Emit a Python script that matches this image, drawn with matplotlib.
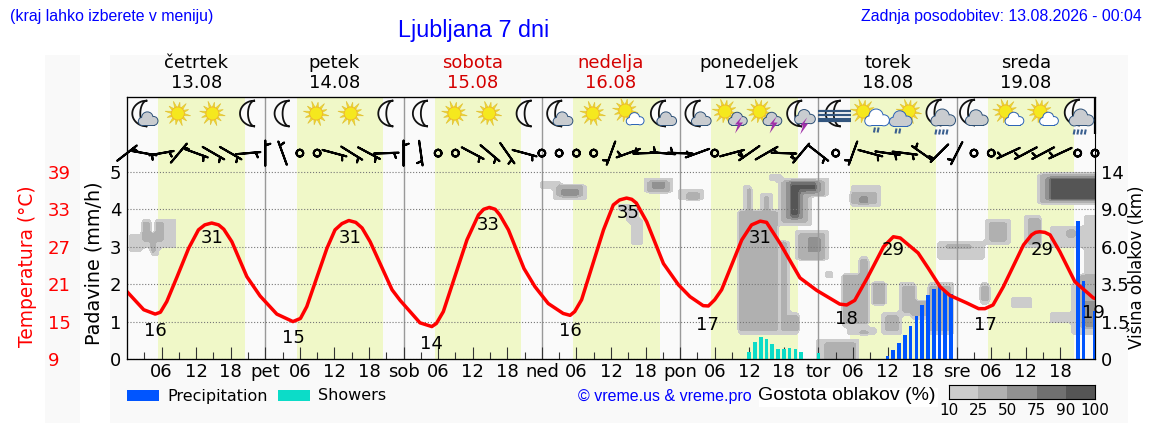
import numpy as np
import matplotlib
matplotlib.use("Agg")
import matplotlib.pyplot as plt
from matplotlib.colors import ListedColormap
from matplotlib.patches import Circle, Polygon, Rectangle

# --- data ---
day_names = ["četrtek", "petek", "sobota", "nedelja", "ponedeljek", "torek", "sreda"]
day_dates = ["13.08", "14.08", "15.08", "16.08", "17.08", "18.08", "19.08"]
day_colors = ["black", "black", "#d40000", "#d40000", "black", "black", "black"]
day_short = ["pet", "sob", "ned", "pon", "tor", "sre"]

sunrise = [5.4, 29.5, 53.45, 77.45, 101.35, 125.47, 149.4]
sunset = [20.5, 44.4, 68.4, 92.5, 116.4, 140.4, 164.3]

temp_hours = [0, 2.9, 4.9, 5.8, 6.9, 8.7, 10.7, 12.4, 13.5, 14.7, 15.9, 16.8, 18.2, 20.8, 23.1, 26, 28.8, 30.1, 31.2,
              34.7, 36.1, 37.3, 38.5, 39.7, 40.8, 42.2, 46, 47.4, 50.85, 52.9, 53.7, 54.9, 59, 61, 61.9, 62.9, 63.9,
              64.7, 66.2, 68.9, 70.8, 73.1, 75.7, 76.9, 77.7, 78.9, 82.7, 84.4, 85.5, 86.7, 87.6, 88.4, 90.2, 93.1,
              95.7, 97.7, 100, 100.9, 102, 103.2, 106.7, 108.4, 109.9, 111, 113.3, 116.8, 119.7, 123.7, 124.9, 126.3,
              128.6, 131.3, 133, 134.2, 137.3, 139.1, 141.1, 142.8, 145.7, 147.8, 148.9, 150.3, 152.1,
              155.6, 157, 157.7, 158.4, 159.3, 160.2, 161.9, 164.5, 167.7, 168]
temp_values = [19.8, 16.9, 16.2, 16.5, 18.2, 22.2, 26.75, 29.7, 30.5, 30.8, 30.5, 29.8, 27.8, 22.2, 19.1, 16.2, 15, 15.5, 17.4,
               26.75, 29.7, 30.7, 31.2, 30.9, 30, 27.8, 20.1, 18.4, 14.8, 14.2, 14.7, 16.6, 28.1, 32.1, 33, 33.3, 33,
               32.1, 29.7, 23.5, 20.6, 17.9, 16.3, 16, 16.6, 18.5, 29.7, 33.7, 34.5, 34.8, 34.6, 34, 31, 24.3,
               20.9, 19, 17.55, 17.5, 18.5, 20.1, 28.1, 30.5, 31.1, 30.9, 27.6, 22, 20, 17.8, 17.66, 18.4,
               22.2, 27, 28.6, 28.4, 26, 23.5, 20.6, 19.2, 18, 17.07, 17.07, 17.66, 20.6,
               27.3, 28.9, 29.3, 29.4, 29.3, 28.9, 26.2, 21.4, 18.8, 18.7]
label_hours = [4.9, 14.75, 28.8, 38.7, 52.9, 62.7, 76.9, 87, 100.8, 109.9, 124.8, 133, 148.9, 158.8, 167.8]
label_temps = [16, 31, 15, 31, 14, 33, 16, 35, 17, 31, 18, 29, 17, 29, 19]

shower_hours = [108, 109, 110, 111, 112, 113, 114, 115, 116, 117, 120]
shower_mm = [.18, .45, .6, .54, .4, .28, .28, .3, .28, .2, .15]
precip_hours = [132, 133, 134, 135, 136, 137, 138, 139, 140, 141, 142, 143, 165, 166, 168]
precip_mm = [.09, .25, .44, .65, .89, 1.16, 1.43, 1.72, 1.88, 1.92, 1.83, 1.74, 3.7, 2.09, 1.29]

# wind direction (degrees, where it blows from) every 3 hours, None = calm
wind_dir = [52, 100, 80, 40, 110, 120, 120, 85,
            0, 340, None, None, 105, 122, 118, 88,
            0, 172, None, None, 118, 130, 145, 105,
            None, None, None, None, 200, 250, 268, 275,
            272, 250, None, 75, 235, 60, 92, 220,
            128, None, 200, 105, 98, 97, 305, 225,
            207, None, None, 245, 242, 242, 245, None, None]

# one icon every 6 hours
icon_hours = [3 + 6 * i for i in range(28)]
icons = ["moon_cloud", "sun", "sun", "moon",
         "moon", "sun", "sun", "moon",
         "moon", "sun", "sun", "moon",
         "moon_cloud", "sun", "sun_cloud", "moon_cloud",
         "moon_cloud", "sun_storm", "sun_storm", "moon_storm",
         "moon_fog", "sun_shower", "sun_darkshower", "moon_rain",
         "moon_dark", "sun_small", "sun_small", "moon_rain"]

# cloud boxes per density: (hour from, hour to, low, high) on the left axis scale
cloud_15 = [(.3, 2.3, 2.82, 3.4), (2.3, 4.3, 2.96, 3.73), (4, 5.8, 2.78, 3.36), (5.2, 8.6, 2.91, 3.8),
            (71.7, 75.7, 4.56, 4.74), (74, 79.5, 4.27, 4.65), (89.3, 94.5, 4.45, 4.86), (95.4, 100.3, 4.23, 4.5),
            (85.5, 87.3, 3.94, 4.16), (87, 88.7, 3.63, 4.07), (87.6, 89.3, 3.05, 3.72),
            (105.9, 112.7, .64, 3.98), (107.1, 108.7, 3.98, 4.65), (110.1, 111.9, 3.98, 4.43),
            (112.7, 116.8, .69, 1.22), (113.2, 114.8, .69, 3.18), (112.4, 113.3, 1.9, 3),
            (111.1, 113.6, 4.74, 4.96), (113, 118.8, 3.58, 4.87), (118.8, 121.7, 4.34, 4.87),
            (116.2, 121.5, 2.63, 3.42), (121.4, 122.5, 2.16, 2.33), (124.1, 128.8, .86, 2.29),
            (127.1, 128.8, 2.25, 2.75), (125.2, 130, .62, .86), (120, 127.2, 0, .51), (129.2, 131.7, 1.42, 2.07),
            (125.4, 130.6, 4.09, 4.65), (134.1, 136.8, 1.13, 2.04), (131, 134.7, .68, 1.27), (139.1, 143.7, .68, 2.02),
            (136.2, 139.1, 1.1, 1.55), (141, 148.9, 2.65, 3.18), (149.1, 153.5, 3.05, 3.73), (156, 158.7, 2.96, 3.85),
            (148, 149.8, 1.44, 2.04), (153.1, 156.9, 1.35, 1.68), (158.2, 168, 4.12, 4.97), (160.2, 168, 3, 3.5),
            (166, 168, 1.94, 3.9), (159.9, 168, 1, 1.22), (164, 168, .68, 2.02)]
cloud_35 = [(2.5, 3.8, 3.2, 3.67), (4, 4.9, 2.87, 3.31), (4.9, 6.4, 3.14, 3.67),
            (74.9, 78.9, 4.34, 4.61), (90.2, 94, 4.5, 4.79), (96.8, 99.1, 4.3, 4.43),
            (106.4, 112.5, .73, 3.91), (107.4, 108.4, 3.91, 4.59), (110.4, 111.6, 3.91, 4.36),
            (113.3, 116.5, .78, 1.18), (113.5, 114.5, .78, 3.11),
            (113.6, 118.2, 3.67, 4.8), (118.2, 121.1, 4.38, 4.8), (116.9, 121, 2.69, 3.34),
            (124.3, 128.4, .91, 2.22), (127.5, 128.4, 2.22, 2.69), (126.9, 128.6, .69, .77), (121.1, 126.3, 0, .44),
            (129.5, 131.4, 1.49, 2.02), (125.9, 130, 4.12, 4.45), (134.6, 136.5, 1.22, 1.98), (131.3, 134.1, .77, 1.2),
            (139.4, 143.1, .78, 1.98), (136.2, 139.1, 1.13, 1.5), (142.2, 146.9, 2.91, 3.05),
            (149.5, 152.7, 3.14, 3.67), (156.7, 158.4, 3.09, 3.8), (148.3, 149.4, 1.53, 1.98),
            (158.9, 168, 4.2, 4.92), (162.8, 164.5, 3.23, 3.45), (165.7, 168, .86, 2.25)]
cloud_60 = [(75.7, 78, 4.39, 4.52), (90.8, 93.1, 4.54, 4.72), (114.2, 117.7, 3.76, 4.79), (117.7, 120.5, 4.45, 4.79),
            (118, 120, 2.84, 3.24), (126.9, 128.9, 4.16, 4.36), (159.4, 168, 4.24, 4.88), (166.2, 168, .9, 1.5)]
cloud_80 = [(114.8, 116.8, 3.8, 4.71), (116.8, 119.8, 4.47, 4.71), (159.9, 168, 4.27, 4.85)]
cloud_95 = [(115.3, 116.5, 3.88, 4.65), (116.5, 119.4, 4.54, 4.67), (160.5, 168, 4.3, 4.83)]

density_levels = [10, 25, 50, 75, 90, 100]
density_colors = ["#cccccc", "#b0b0b0", "#919191", "#707070", "#555555"]
right_labels = ["0", "1.5", "3.5", "6.0", "9.0", "14"]

W, H = 1152, 443
HOUR_PX = 968 / 168

plt.rcParams["font.family"] = "DejaVu Sans"
fig = plt.figure(figsize=(W / 100, H / 100), dpi=100, facecolor="white")


def px_axes(left, top, right, bottom, **kw):
    return fig.add_axes([left / W, 1 - bottom / H, (right - left) / W, (bottom - top) / H], **kw)


def px_text(x, y, s, **kw):
    kw.setdefault("ha", "center")
    kw.setdefault("va", "center")
    return fig.text(x / W, 1 - y / H, s, zorder=10, **kw)


# background panels
bg = px_axes(0, 0, W, H, zorder=0)
bg.set_xlim(0, W)
bg.set_ylim(H, 0)
bg.axis("off")
bg.add_patch(Rectangle((45, 55), 35, 368, fc="#f9f9f9", ec="none"))
bg.add_patch(Rectangle((110, 55), 1018, 368, fc="#f9f9f9", ec="none"))

# main axes
ax = px_axes(127, 97, 1095, 359, zorder=1, facecolor="#fafafa")
ax.set_xlim(0, 168)
ax.set_ylim(0, 7)
for rise, set_ in zip(sunrise, sunset):
    ax.axvspan(rise, set_, color="#f0f8c8", lw=0, zorder=0)

# clouds
grid_h = np.arange(0, 168.01, 0.75)
grid_y = np.arange(0, 5.21, 0.1)
density = np.zeros((len(grid_y), len(grid_h)))
for pct, boxes in [(15, cloud_15), (35, cloud_35), (60, cloud_60), (80, cloud_80), (95, cloud_95)]:
    for h0, h1, y0, y1 in boxes:
        inside = np.outer((grid_y >= y0) & (grid_y <= y1), (grid_h >= h0) & (grid_h <= h1))
        density[inside] = pct
ax.contourf(grid_h, grid_y, density, levels=density_levels, colors=density_colors, zorder=1)

for h in range(24, 168, 24):
    ax.axvline(h, color="#999999", lw=1, zorder=2)
ax.set_yticks(range(6))
ax.yaxis.grid(True, color="#777777", ls=":", lw=0.8)
ax.set_axisbelow(False)
ax.bar(shower_hours, shower_mm, width=0.65, color="#0cdcc8", zorder=3)
ax.bar(precip_hours, precip_mm, width=0.65, color="#0055ff", zorder=3)

# ticks along the bottom
major = [h for h in range(6, 168, 6)]
major_labels = []
for h in major:
    major_labels.append(day_short[h // 24 - 1] if h % 24 == 0 else "%02d" % (h % 24))
ax.set_xticks(major)
ax.set_xticklabels(major_labels)
ax.set_xticks(range(3, 168, 6), minor=True)
ax.tick_params(axis="x", which="major", direction="in", length=9, labelsize=13, width=0.8, color="#333333", pad=3)
ax.tick_params(axis="x", which="minor", direction="in", length=5, width=0.8, color="#333333")
ax.tick_params(axis="y", length=0, labelsize=13, pad=4)

# wind barbs, staff pointing to where the wind comes from
wind_hours = np.arange(0, 169, 3)
speed = np.array([0 if d is None else 6 for d in wind_dir], dtype=float)
rad = np.radians([0 if d is None else d for d in wind_dir])
u = -speed * np.sin(rad)
v = -speed * np.cos(rad)
ax.barbs(wind_hours, np.full(len(wind_hours), 5.5), u, v, pivot="middle", length=6, linewidth=1.5,
         color="black", sizes=dict(emptybarb=0.135), clip_on=False, zorder=6)

# temperature
ax_t = ax.twinx()
ax_t.set_ylim(9, 51)
ax_t.plot(temp_hours, temp_values, color="#ff0000", lw=2.5, zorder=5)
for h, t in zip(label_hours, label_temps):
    ax_t.annotate(str(t), (h, t), xytext=(0, -11.5), textcoords="offset points", ha="center", va="center",
                  fontsize=13, zorder=6, annotation_clip=False)
ax_t.set_yticks([9, 15, 21, 27, 33, 39])
ax_t.spines["right"].set_position(("axes", -82 / 968))
ax_t.spines["right"].set_visible(False)
ax_t.tick_params(axis="y", length=0, pad=2, labelsize=13, labelcolor="#ff0000")
ax_t.patch.set_visible(False)

# cloud height scale on the right
ax_r = ax.twinx()
ax_r.set_ylim(0, 7)
ax_r.set_yticks(range(6))
ax_r.set_yticklabels(right_labels)
ax_r.tick_params(axis="y", length=0, labelsize=13, pad=4)
ax_r.patch.set_visible(False)
ax_r.spines["right"].set_bounds(0, 5)
ax_r.plot([168, 168], [6, 7], color="black", lw=1.6, clip_on=False, solid_capstyle="butt")

# day headers
for i in range(7):
    x = 127 + (12 + 24 * i) * HOUR_PX
    px_text(x, 63, day_names[i], color=day_colors[i], fontsize=13)
    px_text(x, 83, day_dates[i], color=day_colors[i], fontsize=13)

# weather icons, in pixels on an overlay
ov = px_axes(0, 0, W, H, zorder=5)
ov.set_xlim(0, W)
ov.set_ylim(H, 0)
ov.axis("off")


def draw_sun(cx, cy, r=6.5):
    for i in range(12):
        a = np.radians(30 * i + 10)
        length = r + (6.5 if i % 2 == 0 else 5)
        side = np.array([-np.sin(a), np.cos(a)]) * 1.1
        tip = np.array([cx + np.cos(a) * length, cy + np.sin(a) * length])
        base = np.array([cx + np.cos(a) * r, cy + np.sin(a) * r])
        ov.add_patch(Polygon([base + side, tip, base - side], fc="#f2e21f", ec="#e2c23a", lw=0.5))
    ov.add_patch(Circle((cx, cy), r, fc="#f5e81e", ec="#eeb52c", lw=0.6))


def draw_moon(cx, cy):
    t = np.linspace(-1, 1, 40)
    back = np.sqrt(1 - t ** 2)
    outer = np.column_stack([cx + 7 - 15 * back, cy + 13 * t])
    inner = np.column_stack([cx + 7 - 7 * back, cy + 13 * t])[::-1]
    ov.add_patch(Polygon(np.vstack([outer, inner]), fc="#fbfbfb", ec="#111111", lw=1.3))


def draw_cloud(cx, cy, s, face, edge):
    bumps = [(-.62, .2, .38), (-.1, -.2, .55), (.55, .15, .42)]
    for dx, dy, r in bumps:
        ov.add_patch(Circle((cx + dx * s, cy + dy * s), r * s, fc=edge, ec=edge, lw=1.4))
    ov.add_patch(Rectangle((cx - .62 * s, cy), 1.17 * s, .58 * s, fc=edge, ec=edge, lw=1.4))
    for dx, dy, r in bumps:
        ov.add_patch(Circle((cx + dx * s, cy + dy * s), r * s, fc=face, ec="none"))
    ov.add_patch(Rectangle((cx - .62 * s, cy), 1.17 * s, .58 * s, fc=face, ec="none"))


def draw_bolt(cx, cy):
    pts = [(4, -8), (-3, 0), (0, 0), (-3, 9), (5, -2), (1, -2), (4, -8)]
    ov.add_patch(Polygon([(cx + a, cy + b) for a, b in pts], fc="#a030a8", ec="none"))


def draw_rain(cx, cy, n):
    for i in range(n):
        x = cx + 3.7 * (i - (n - 1) / 2)
        ov.plot([x + .5, x - .5], [cy, cy + 5], color="#3a5f8f", lw=1.5, solid_capstyle="butt")


GREY, NAVY, PALE, BLUE = "#c9ccd0", "#2d5178", "#ffffff", "#2a62b8"
for hour, name in zip(icon_hours, icons):
    cx = 127 + hour * HOUR_PX
    cy = 113.5
    if name == "sun":
        draw_sun(cx - 1, cy)
    elif name == "moon":
        draw_moon(cx, cy)
    elif name == "moon_cloud":
        draw_moon(cx - 4, cy)
        draw_cloud(cx + 4, cy + 6, 9.5, GREY, NAVY)
    elif name == "sun_cloud":
        draw_sun(cx - 3, cy - 3)
        draw_cloud(cx + 7, cy + 6, 8.5, PALE, BLUE)
    elif name == "sun_storm":
        draw_sun(cx - 7, cy - 2)
        draw_cloud(cx + 6, cy + 6, 9, GREY, NAVY)
        draw_bolt(cx + 6, cy + 11)
    elif name == "moon_storm":
        draw_moon(cx - 6, cy)
        draw_cloud(cx + 4, cy + 4, 10, GREY, NAVY)
        draw_bolt(cx + 2, cy + 12)
    elif name == "moon_fog":
        draw_moon(cx - 2, cy)
        for dy, w in [(-3, 1.6), (1, 1.6), (6, 3)]:
            ov.plot([cx - 18, cx + 15], [cy + dy, cy + dy], color="#33567f", lw=w, solid_capstyle="butt")
    elif name == "sun_shower":
        draw_sun(cx - 7, cy - 2)
        draw_cloud(cx + 7, cy + 5, 12, PALE, BLUE)
        draw_rain(cx + 6, cy + 14, 2)
    elif name == "sun_darkshower":
        draw_sun(cx + 4, cy - 2)
        draw_cloud(cx - 4, cy + 6, 11, GREY, BLUE)
        draw_rain(cx - 7, cy + 15, 2)
    elif name == "moon_rain":
        draw_moon(cx - 5, cy - 1)
        draw_cloud(cx + 4, cy + 5, 12, GREY, NAVY)
        draw_rain(cx + 2, cy + 16, 4)
    elif name == "moon_dark":
        draw_moon(cx - 6, cy - 1)
        draw_cloud(cx + 3, cy + 5, 11, GREY, NAVY)
    elif name == "sun_small":
        draw_sun(cx - 3, cy - 2)
        draw_cloud(cx + 6, cy + 6, 9, PALE, BLUE)

# legend row
ov.add_patch(Rectangle((127, 390), 32, 11, fc="#0055ff", ec="none"))
ov.add_patch(Rectangle((278, 390), 32, 11, fc="#0cdcc8", ec="none"))
px_text(167, 396, "Precipitation", ha="left", fontsize=11.5)
px_text(318, 396, "Showers", ha="left", fontsize=11.5)
px_text(665, 397, "© vreme.us & vreme.pro", color="#0000ff", fontsize=11.5, family="Liberation Sans")
ov.add_patch(Rectangle((759, 388), 179, 19, fc="white", ec="none"))
px_text(847, 396, "Gostota oblakov (%)", fontsize=14, family="Liberation Sans")

# colour key
ax_c = px_axes(949, 385, 1095, 399, zorder=6)
ax_c.pcolormesh([0, 1, 2, 3, 4, 5], [0, 1], [[0, 1, 2, 3, 4]], cmap=ListedColormap(density_colors))
ax_c.set_yticks([])
ax_c.set_xticks(range(6))
ax_c.set_xticklabels([str(d) for d in density_levels])
ax_c.tick_params(axis="x", length=0, labelsize=11, pad=3)

# titles and side labels
px_text(10, 17, "(kraj lahko izberete v meniju)", ha="left", color="#0000ff", fontsize=11.4, family="Liberation Sans")
px_text(474, 30, "Ljubljana 7 dni", color="#0000ff", fontsize=16.8, family="Liberation Sans")
px_text(1142, 17, "Zadnja posodobitev: 13.08.2026 - 00:04", ha="right", color="#0000ff", fontsize=11.45,
        family="Liberation Sans")
px_text(28, 266, "Temperatura (°C)", color="#ff0000", fontsize=13.4, rotation=90)
px_text(94, 263, "Padavine (mm/h)", fontsize=13.8, rotation=90)
px_text(1137, 267, "Višina oblakov (km)", fontsize=12, rotation=90)

fig.savefig("out.png", dpi=100, facecolor="white")
